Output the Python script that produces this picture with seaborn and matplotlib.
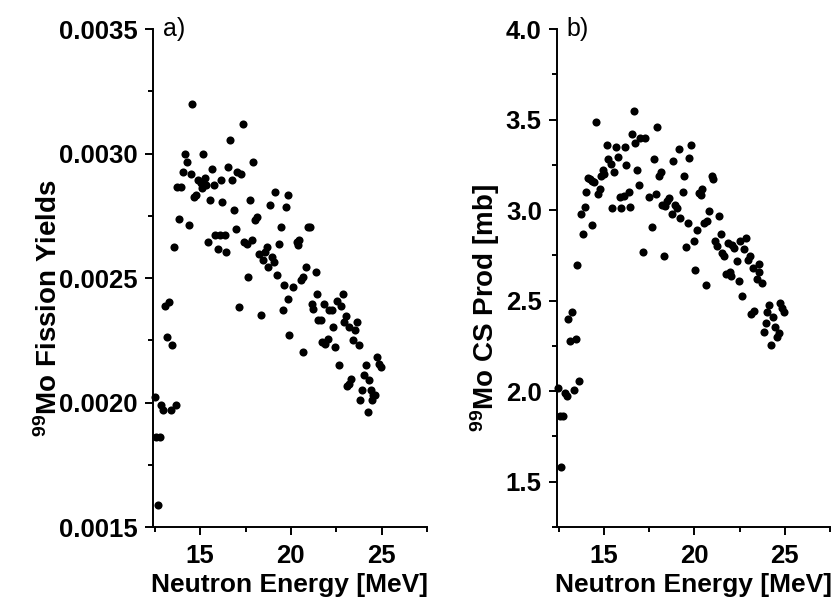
import matplotlib
matplotlib.use('Agg')
import matplotlib.pyplot as plt
from matplotlib.ticker import MultipleLocator, FormatStrFormatter
import seaborn as sns

# estilo base
sns.set_style('ticks')
plt.rcParams['font.family'] = ['Liberation Sans', 'DejaVu Sans']
plt.rcParams['font.weight'] = 'bold'
plt.rcParams['mathtext.fontset'] = 'custom'
plt.rcParams['mathtext.rm'] = 'Liberation Sans:bold'
plt.rcParams['mathtext.bf'] = 'Liberation Sans:bold'
plt.rcParams['mathtext.it'] = 'Liberation Sans:bold'
for chave in ['text.color', 'axes.labelcolor', 'axes.edgecolor', 'xtick.color', 'ytick.color']:
    plt.rcParams[chave] = 'black'

# painel a) - rendimentos de fissao do 99Mo
energy_a = [14.56, 17.34, 16.64, 14.15, 15.13, 14.27, 17.94, 14.04, 14.47, 15.64,
            16.54, 17.04, 17.24, 14.89, 15.26, 15.04, 16.14, 16.73, 13.73, 13.97,
            15.35, 15.75, 15.11, 14.76, 14.65, 15.53, 16.23, 16.86, 17.74, 18.84,
            19.12, 19.82, 19.73, 18.11, 18.03, 13.84, 14.36, 19.45, 16.95, 15.81,
            16.09, 16.36, 15.44, 17.43, 17.56, 17.85, 18.66, 18.57, 19.36, 15.96,
            16.45, 13.55, 18.25, 18.44, 18.95, 19.06, 18.75, 19.23, 17.65, 19.63,
            13.05, 13.29, 19.85, 17.15, 18.35, 19.54, 19.91, 13.15, 13.45, 12.50,
            12.87, 12.96, 13.37, 13.66, 12.56, 12.78, 12.65, 20.94, 21.05, 20.32,
            20.46, 20.37, 20.83, 21.36, 20.68, 20.54, 20.13, 21.45, 22.85, 21.14,
            21.23, 21.82, 22.11, 22.25, 22.52, 22.74, 23.04, 21.51, 21.64, 22.33,
            22.92, 23.20, 23.53, 23.64, 21.73, 21.88, 22.06, 22.44, 23.40, 23.74,
            20.65, 22.63, 24.12, 24.73, 24.86, 24.97, 24.03, 24.32, 23.31, 23.18,
            23.11, 23.93, 24.41, 24.54, 24.65, 23.82, 24.49, 24.23]
yield_a = [0.003197, 0.003117, 0.003056, 0.002997, 0.002997, 0.002965, 0.002965, 0.002926, 0.002917, 0.002936,
           0.002945, 0.002926, 0.002917, 0.002895, 0.002903, 0.002882, 0.002895, 0.002895, 0.002866, 0.002866,
           0.002872, 0.002875, 0.002863, 0.002835, 0.002825, 0.002815, 0.002805, 0.002775, 0.002815, 0.002795,
           0.002846, 0.002835, 0.002785, 0.002745, 0.002735, 0.002736, 0.002714, 0.002705, 0.002695, 0.002674,
           0.002674, 0.002674, 0.002644, 0.002644, 0.002635, 0.002654, 0.002624, 0.002604, 0.002635, 0.002615,
           0.002604, 0.002624, 0.002595, 0.002574, 0.002584, 0.002564, 0.002544, 0.002514, 0.002504, 0.002473,
           0.002386, 0.002403, 0.002417, 0.002383, 0.002352, 0.002372, 0.002272, 0.002262, 0.002232, 0.002021,
           0.001992, 0.001970, 0.001970, 0.001990, 0.001863, 0.001863, 0.001588, 0.002705, 0.002705, 0.002644,
           0.002654, 0.002634, 0.002544, 0.002524, 0.002506, 0.002493, 0.002463, 0.002434, 0.002434, 0.002394,
           0.002374, 0.002394, 0.002372, 0.002372, 0.002406, 0.002386, 0.002346, 0.002332, 0.002332, 0.002303,
           0.002323, 0.002303, 0.002292, 0.002323, 0.002242, 0.002236, 0.002254, 0.002222, 0.002253, 0.002233,
           0.002202, 0.002152, 0.002152, 0.002182, 0.002155, 0.002142, 0.002112, 0.002091, 0.002093, 0.002075,
           0.002068, 0.002052, 0.002052, 0.002031, 0.002031, 0.002012, 0.002012, 0.001961]

# painel b) - secao de choque de producao do 99Mo [mb]
energy_b = [16.65, 14.53, 17.92, 16.54, 16.98, 17.24, 16.74, 15.14, 15.64, 16.14,
            19.12, 19.82, 15.23, 15.75, 17.74, 18.83, 19.71, 15.36, 16.22, 14.92,
            15.01, 14.86, 15.54, 16.83, 18.14, 18.05, 14.09, 14.22, 14.36, 14.45,
            19.43, 16.94, 14.75, 14.67, 14.03, 16.36, 16.10, 15.88, 17.48, 17.87,
            19.35, 20.25, 18.59, 18.46, 18.22, 18.37, 18.92, 19.01, 13.92, 15.43,
            15.93, 16.43, 13.73, 18.75, 19.23, 19.62, 14.34, 17.63, 20.12, 13.83,
            19.95, 19.53, 17.15, 18.33, 13.53, 20.04, 13.24, 13.01, 13.11, 13.44,
            13.62, 12.46, 12.83, 12.93, 13.33, 12.56, 12.74, 12.61, 21.04, 20.95,
            20.40, 20.34, 20.82, 21.35, 20.52, 20.71, 21.45, 21.13, 21.23, 21.84,
            22.06, 22.20, 22.52, 22.83, 22.72, 21.50, 21.63, 22.33, 22.98, 23.07,
            23.58, 23.22, 23.55, 21.74, 21.96, 22.00, 22.44, 23.44, 23.75, 20.64,
            22.63, 23.29, 23.14, 24.14, 24.03, 24.73, 24.86, 24.95, 24.34, 23.96,
            24.45, 23.84, 24.66, 24.55, 24.25]
cs_b = [3.549, 3.488, 3.460, 3.418, 3.399, 3.399, 3.369, 3.359, 3.350, 3.350,
        3.339, 3.359, 3.280, 3.291, 3.280, 3.271, 3.289, 3.252, 3.249, 3.221,
        3.199, 3.190, 3.212, 3.219, 3.212, 3.190, 3.178, 3.170, 3.160, 3.155,
        3.190, 3.138, 3.114, 3.088, 3.099, 3.101, 3.079, 3.073, 3.073, 3.088,
        3.098, 3.096, 3.068, 3.050, 3.031, 3.022, 3.031, 3.009, 3.018, 3.009,
        3.009, 3.018, 2.978, 2.976, 2.957, 2.928, 2.917, 2.908, 2.890, 2.867,
        2.829, 2.797, 2.768, 2.748, 2.698, 2.667, 2.435, 2.396, 2.276, 2.286,
        2.055, 2.015, 1.991, 1.972, 2.006, 1.864, 1.864, 1.582, 3.171, 3.188,
        3.114, 3.083, 2.996, 2.969, 2.930, 2.941, 2.867, 2.829, 2.801, 2.819,
        2.807, 2.792, 2.829, 2.847, 2.786, 2.761, 2.746, 2.718, 2.724, 2.746,
        2.700, 2.683, 2.659, 2.646, 2.656, 2.635, 2.608, 2.617, 2.598, 2.586,
        2.527, 2.444, 2.425, 2.477, 2.436, 2.488, 2.460, 2.436, 2.407, 2.374,
        2.355, 2.328, 2.319, 2.297, 2.256]

fig = plt.figure(figsize=(8.35, 6.01), dpi=100)
ax1 = fig.add_axes([0.1832, 0.1231, 0.3281, 0.8286])
ax2 = fig.add_axes([0.6671, 0.1231, 0.3269, 0.8286])

sns.scatterplot(x=energy_a, y=yield_a, ax=ax1, color='black', s=34, linewidth=0, clip_on=False)
sns.scatterplot(x=energy_b, y=cs_b, ax=ax2, color='black', s=34, linewidth=0, clip_on=False)

# configuracoes comuns dos eixos
for ax in (ax1, ax2):
    sns.despine(ax=ax)
    ax.spines['left'].set_linewidth(1.4)
    ax.spines['bottom'].set_linewidth(1.4)
    ax.set_xlim(12.4, 27.5)
    ax.xaxis.set_major_locator(MultipleLocator(5))
    ax.xaxis.set_minor_locator(MultipleLocator(2.5))
    ax.tick_params(which='major', length=6, width=1.4, labelsize=18.5, color='black', labelcolor='black')
    ax.tick_params(which='minor', length=3.5, width=1.4, color='black')
    ax.tick_params(axis='x', which='major', pad=6)
    ax.tick_params(axis='y', which='major', pad=5)
    ax.set_xlabel('Neutron Energy [MeV]', fontsize=19, fontweight='bold', labelpad=4)
    ax.grid(False)

ax1.set_ylim(0.0015, 0.0035)
ax1.yaxis.set_major_locator(MultipleLocator(0.0005))
ax1.yaxis.set_minor_locator(MultipleLocator(0.00025))
ax1.yaxis.set_major_formatter(FormatStrFormatter('%.4f'))
ax1.set_ylabel(r'$^{99}$Mo Fission Yields', fontsize=20, fontweight='bold')
ax1.yaxis.set_label_coords(-0.33, 0.44)
ax1.text(0.035, 1.0, 'a)', transform=ax1.transAxes, fontsize=18, fontweight='normal', va='center', ha='left')

ax2.set_ylim(1.25, 4.0)
ax2.yaxis.set_major_locator(MultipleLocator(0.5))
ax2.yaxis.set_minor_locator(MultipleLocator(0.25))
ax2.yaxis.set_major_formatter(FormatStrFormatter('%.1f'))
ax2.set_ylabel(r'$^{99}$Mo CS Prod [mb]', fontsize=20, fontweight='bold')
ax2.yaxis.set_label_coords(-0.2, 0.44)
ax2.text(0.035, 1.0, 'b)', transform=ax2.transAxes, fontsize=18, fontweight='normal', va='center', ha='left')

fig.savefig('out.png', dpi=100)
